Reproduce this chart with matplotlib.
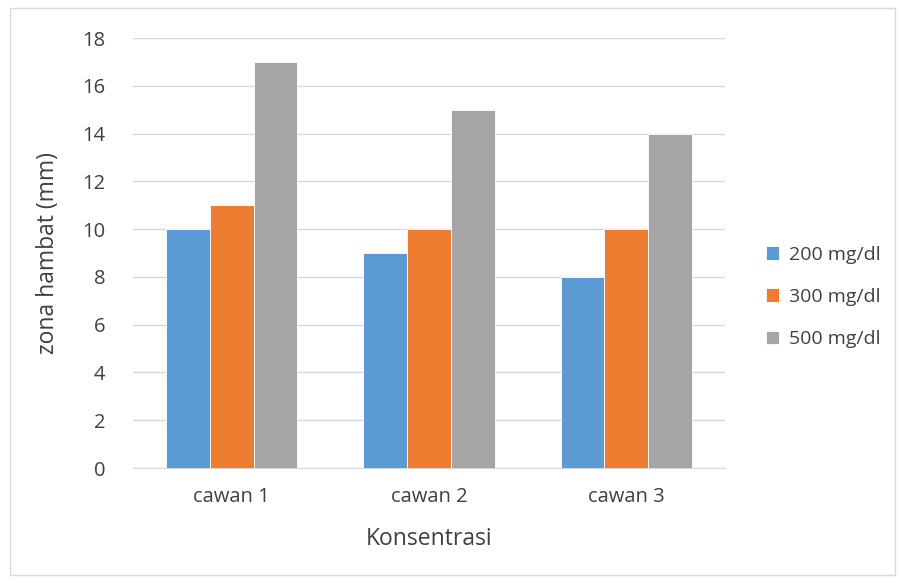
import matplotlib
matplotlib.use("Agg")
import matplotlib.pyplot as plt
import numpy as np
from matplotlib.patches import Rectangle

categories = ["cawan 1", "cawan 2", "cawan 3"]
series_names = ["200 mg/dl", "300 mg/dl", "500 mg/dl"]
v200 = [10, 9, 8]
v300 = [11, 10, 10]
v500 = [17, 15, 14]
colors = ["#5B9BD5", "#ED7D31", "#A5A5A5"]

plt.rcParams['font.family'] = ['Open Sans', 'DejaVu Sans']
txt = '#404040'

fig = plt.figure(figsize=(9.01, 5.83), dpi=100)
ax = fig.add_axes([133/901, 1-468/583, (725-133)/901, (468-38)/583])

x = np.arange(len(categories))
w = 0.222
for i, (vals, name, c) in enumerate(zip([v200, v300, v500], series_names, colors)):
    ax.bar(x + (i-1)*w, vals, width=w, color=c, label=name, zorder=3,
           edgecolor='white', linewidth=0.6)

ax.set_xlim(-0.5, 2.5)
ax.set_ylim(0, 18)
ax.set_yticks(range(0, 19, 2))
ax.set_xticks(x)
ax.set_xticklabels(categories)
ax.yaxis.grid(True, color='#D9D9D9', linewidth=1, zorder=0)
for s in ['top', 'right', 'left']:
    ax.spines[s].set_visible(False)
ax.spines['bottom'].set_color('#D9D9D9')
ax.tick_params(axis='both', length=0, labelsize=14.5, colors=txt)
ax.tick_params(axis='x', pad=14)
ax.tick_params(axis='y', pad=20)
ax.set_ylabel("zona hambat (mm)", fontsize=16.5, color=txt, labelpad=16)
ax.set_xlabel("Konsentrasi", fontsize=16.5, color=txt, labelpad=14)

leg = fig.legend(loc='center left', bbox_to_anchor=(748/901, 1-297/583), frameon=False,
                 fontsize=14, labelcolor=txt, handlelength=0.7, handleheight=0.7,
                 labelspacing=1.25, handletextpad=0.5)

fig.patches.append(Rectangle((10/901, 8/583), 885/901, 567/583, transform=fig.transFigure,
                             fill=False, edgecolor='#D9D9D9', linewidth=1))
fig.savefig("out.png", dpi=100)
